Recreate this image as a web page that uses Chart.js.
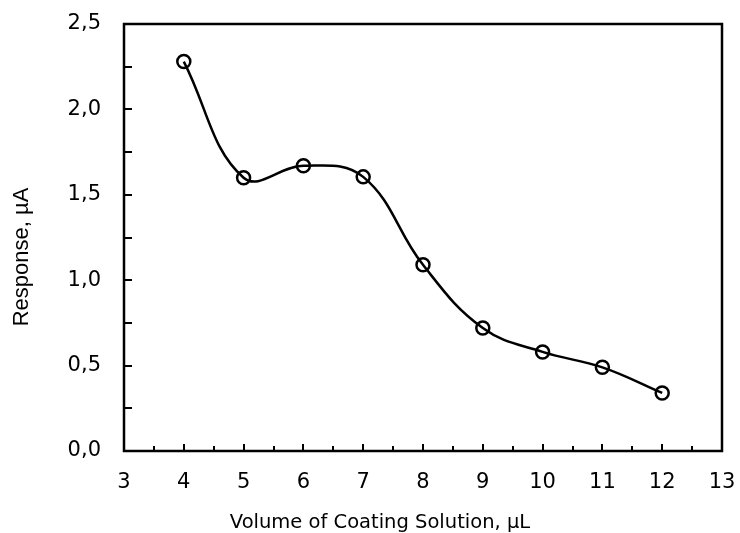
<!DOCTYPE html>
<html>
<head>
<meta charset="utf-8">
<script src="https://cdn.jsdelivr.net/npm/chart.js@4/dist/chart.umd.min.js"></script>
<style>
  html, body { margin: 0; padding: 0; background: #fff; }
  #wrap { width: 740px; height: 533px; }
</style>
</head>
<body>
<div id="wrap"><canvas id="response"></canvas></div>
<script>
const volumes = [4, 5, 6, 7, 8, 9, 10, 11, 12];
const response = [2.28, 1.60, 1.67, 1.605, 1.09, 0.72, 0.58, 0.49, 0.34];

const xTitle = 'Volume of Coating Solution, µL';
const yTitle = 'Response, µA';

const tickFont = { family: 'DejaVu Sans', size: 21 };

// inward tick marks, the closed frame and the two axis titles
const frame = {
   id: 'frame',
   afterDraw(chart) {
      const ctx = chart.ctx;
      const area = chart.chartArea;
      const x = chart.scales.x;
      const y = chart.scales.y;

      ctx.save();
      ctx.strokeStyle = '#000';
      ctx.lineWidth = 2.5;
      ctx.strokeRect(area.left, area.top, area.right - area.left, area.bottom - area.top);

      ctx.beginPath();
      ctx.lineWidth = 2;
      for (let v = 3.5; v < 13; v += 0.5) {
         const px = Math.round(x.getPixelForValue(v));
         const len = Number.isInteger(v) ? 7 : 5;
         ctx.moveTo(px, area.bottom);
         ctx.lineTo(px, area.bottom - len);
      }
      for (let v = 0.25; v < 2.5; v += 0.25) {
         const py = Math.round(y.getPixelForValue(v));
         ctx.moveTo(area.left, py);
         ctx.lineTo(area.left + 8, py);
      }
      ctx.stroke();

      ctx.fillStyle = '#000';
      ctx.font = '19.5px "DejaVu Sans"';
      ctx.textAlign = 'center';
      ctx.textBaseline = 'alphabetic';
      ctx.fillText(xTitle, 380, 528);

      ctx.translate(28, 257);
      ctx.rotate(-Math.PI / 2);
      ctx.font = '22px "Liberation Sans"';
      ctx.fillText(yTitle, 0, 0);
      ctx.restore();
   },
};

new Chart(document.getElementById('response'), {
   type: 'line',
   data: {
      datasets: [
         {
            data: volumes.map((v, i) => ({ x: v, y: response[i] })),
            borderColor: '#000',
            borderWidth: 2.5,
            tension: 0.4,
            pointRadius: 6.5,
            pointBorderWidth: 2.5,
            pointBorderColor: '#000',
            pointBackgroundColor: 'rgba(0,0,0,0)',
         },
      ],
   },
   options: {
      responsive: true,
      maintainAspectRatio: false,
      animation: false,
      layout: { padding: { top: 24, right: 18, left: 0, bottom: 0 } },
      plugins: { legend: { display: false }, tooltip: { enabled: false } },
      scales: {
         x: {
            type: 'linear',
            min: 3,
            max: 13,
            ticks: {
               stepSize: 1,
               color: '#000',
               font: tickFont,
               padding: 11,
            },
            grid: { display: false },
            border: { display: false },
            afterFit: (scale) => {
               scale.height = 82;
               scale.paddingLeft = 0;
               scale.paddingRight = 0;
            },
         },
         y: {
            min: 0,
            max: 2.5,
            ticks: {
               stepSize: 0.5,
               color: '#000',
               font: tickFont,
               padding: 15,
               callback: (v) => v.toFixed(1).replace('.', ','),
            },
            grid: { display: false },
            border: { display: false },
            afterFit: (scale) => {
               scale.width = 124;
               scale.paddingTop = 0;
               scale.paddingBottom = 0;
            },
         },
      },
   },
   plugins: [frame],
});
</script>
</body>
</html>
